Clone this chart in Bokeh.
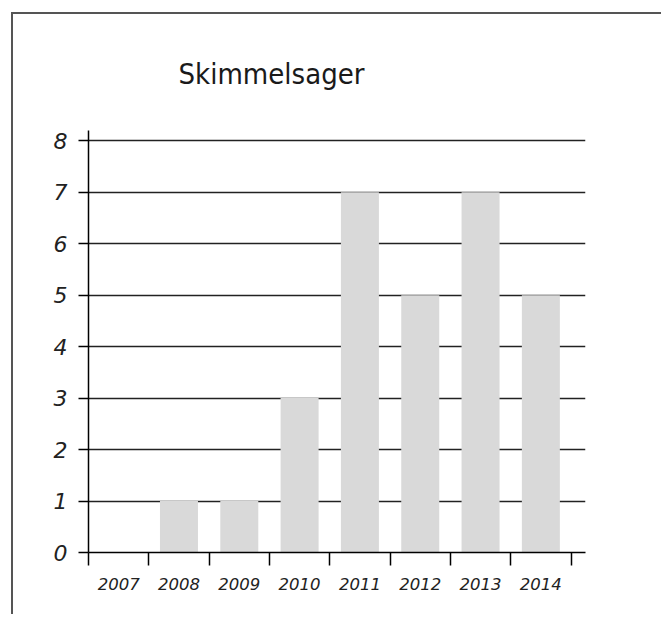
from bokeh.plotting import figure
from bokeh.models import Range1d, FixedTicker
from bokeh.embed import file_html
from bokeh.resources import INLINE

# Case counts per year
years = ["2007", "2008", "2009", "2010", "2011", "2012", "2013", "2014"]
counts = [0, 1, 1, 3, 7, 5, 7, 5]
y_ticks = [0, 1, 2, 3, 4, 5, 6, 7, 8]

n = len(years)
centers = [i + 0.5 for i in range(n)]
bounds = [float(i) for i in range(n + 1)]

p = figure(width=650, height=602, output_backend="svg", toolbar_location=None,
           x_range=Range1d(0, n + 0.24), y_range=Range1d(0, 8.2),
           min_border_left=75, min_border_right=78, min_border_top=116,
           min_border_bottom=64, title="Skimmelsager")
p.outline_line_color = None
p.background_fill_color = "white"
p.border_fill_color = "white"
# outer frame: top and left edges of the chart box
p.styles = {"margin-left": "11px", "margin-top": "12px",
            "border-left": "2px solid #555555", "border-top": "2px solid #555555"}

p.title.text_font = "DejaVu Sans Condensed, Roboto"
p.title.text_font_size = "29px"
p.title.text_font_style = "normal"
p.title.text_color = "#1a1a1a"
p.title.align = "left"
p.title.offset = 90
p.title.standoff = 79

p.vbar(x=centers, top=counts, width=0.63, fill_color="#d9d9d9", line_color=None)

# x axis: ticks at category boundaries, labels at centers
xa = p.xaxis[0]
xa.ticker = FixedTicker(ticks=centers, minor_ticks=bounds)
xa.major_label_overrides = {c: y for c, y in zip(centers, years)}
xa.major_tick_out = 0
xa.major_tick_in = 0
xa.minor_tick_out = 13
xa.minor_tick_in = 0
xa.minor_tick_line_color = "black"
xa.minor_tick_line_width = 1.5
xa.axis_line_color = "black"
xa.axis_line_width = 1.5
xa.major_label_text_font = "DejaVu Sans"
xa.major_label_text_font_style = "italic"
xa.major_label_text_font_size = "16.5px"
xa.major_label_text_color = "#222222"
xa.major_label_standoff = 12

ya = p.yaxis[0]
ya.ticker = FixedTicker(ticks=y_ticks)
ya.minor_tick_line_color = None
ya.major_tick_out = 10
ya.major_tick_in = 0
ya.major_tick_line_color = "black"
ya.major_tick_line_width = 1.5
ya.axis_line_color = "black"
ya.axis_line_width = 1.5
ya.major_label_text_font = "DejaVu Sans"
ya.major_label_text_font_style = "italic"
ya.major_label_text_font_size = "22px"
ya.major_label_text_color = "#222222"
ya.major_label_standoff = 11

p.xgrid.grid_line_color = None
p.ygrid.ticker = FixedTicker(ticks=y_ticks)
p.ygrid.grid_line_color = "#222222"
p.ygrid.grid_line_width = 1.5
p.ygrid.level = "underlay"

open("out.html", "w").write(file_html(p, INLINE))
